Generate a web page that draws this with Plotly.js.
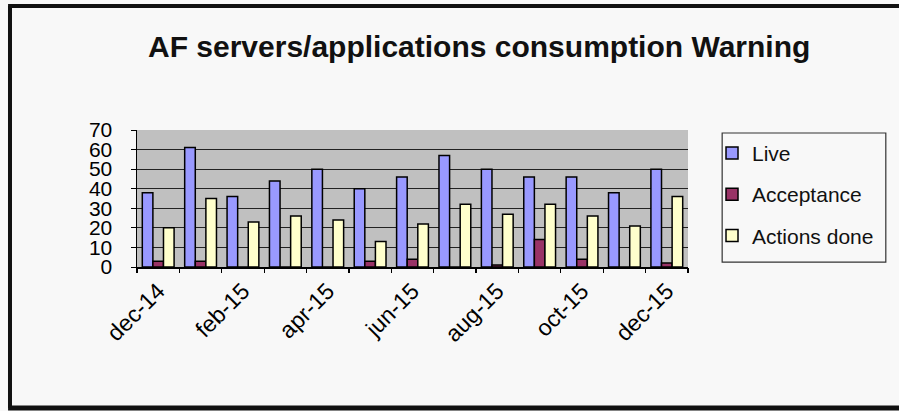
<!DOCTYPE html>
<html>
<head>
<meta charset="utf-8">
<script src="https://cdn.plot.ly/plotly-3.0.1.min.js"></script>
<style>
  html, body { margin: 0; padding: 0; background: #f8f8f8; overflow: hidden; }
  #chart { width: 899px; height: 411px; }
</style>
</head>
<body>
<div id="chart"></div>
<script>
// Monthly warning counts per environment
const months = ["dec-14", "jan-15", "feb-15", "mar-15", "apr-15", "may-15", "jun-15",
                "jul-15", "aug-15", "sep-15", "oct-15", "nov-15", "dec-15"];
const live        = [38, 61, 36, 44, 50, 40, 46, 57, 50, 46, 46, 38, 50];
const acceptance  = [3, 3, 0, 0, 0, 3, 4, 0, 1, 14, 4, 0, 2];
const actionsDone = [20, 35, 23, 26, 24, 13, 22, 32, 27, 32, 26, 21, 36];

// Only every other month is labelled on the category axis
const labelledMonths = ["dec-14", "feb-15", "apr-15", "jun-15", "aug-15", "oct-15", "dec-15"];
// Category boundaries, used for the tick marks between groups
const boundaries = [];
for (let i = 0; i <= months.length; i++) boundaries.push(i - 0.5);

const FONT = "Liberation Sans, Arial, sans-serif";
const outline = { color: "#000", width: 1.5 };

const traces = [
  { type: "bar", name: "Live", x: months, y: live, legendgroup: "a",
    marker: { color: "#9999ff", line: outline } },
  { type: "bar", name: "Acceptance", x: months, y: acceptance, legendgroup: "b",
    marker: { color: "#993366", line: outline } },
  { type: "bar", name: "Actions done", x: months, y: actionsDone, legendgroup: "c",
    marker: { color: "#ffffcc", line: outline } },
  // carrier for the boundary tick axis
  { type: "scatter", x: [boundaries[0]], y: [0], xaxis: "x2", mode: "markers",
    marker: { opacity: 0 }, showlegend: false, hoverinfo: "skip" }
];

// outer chart frame: left, top and bottom edges (paper units of the plot area)
const frameLine = { color: "#111", width: 4 };

const layout = {
  width: 899, height: 411,
  margin: { l: 137, r: 211, t: 130, b: 144, autoexpand: false },
  paper_bgcolor: "#f8f8f8",
  plot_bgcolor: "#c0c0c0",
  font: { family: FONT, color: "#000" },
  title: {
    text: "<b>AF servers/applications consumption Warning</b>",
    font: { family: FONT, size: 30, color: "#111" },
    xref: "container", yref: "container",
    x: 0.533, xanchor: "center", y: 0.887, yanchor: "middle"
  },
  barmode: "group",
  bargap: 0.25,
  bargroupgap: 0,
  xaxis: {
    type: "category",
    tickmode: "array", tickvals: labelledMonths, ticktext: labelledMonths,
    tickangle: -45, ticks: "", tickfont: { size: 23 },
    showline: true, linecolor: "#000", linewidth: 1.5,
    showgrid: false, zeroline: false, range: [-0.5, 12.5]
  },
  xaxis2: {
    overlaying: "x", anchor: "y", side: "bottom",
    range: [-0.5, 12.5], tickmode: "array", tickvals: boundaries,
    ticks: "outside", ticklen: 5, tickcolor: "#000", tickwidth: 1.2,
    showticklabels: false, showgrid: false, zeroline: false, showline: false
  },
  yaxis: {
    range: [0, 70], dtick: 10, tick0: 0,
    ticks: "outside", ticklen: 5, tickcolor: "#000",
    tickfont: { size: 21 }, ticklabelstandoff: 14,
    showline: true, linecolor: "#000", linewidth: 1.5,
    showgrid: true, gridcolor: "#222", gridwidth: 1, zeroline: false
  },
  showlegend: true,
  legend: {
    xref: "container", yref: "container",
    x: 0.792, xanchor: "left", y: 0.677, yanchor: "top",
    bgcolor: "rgba(0,0,0,0)", borderwidth: 0,
    font: { family: FONT, size: 21, color: "#111" },
    traceorder: "grouped", tracegroupgap: 11
  },
  shapes: [
    // legend frame
    { type: "rect", xref: "paper", yref: "paper",
      x0: 1.062, x1: 1.359, y0: 0.036, y1: 0.978,
      line: { color: "#333", width: 1.2 }, fillcolor: "#f8f8f8", layer: "below" },
    // outer frame
    { type: "line", xref: "paper", yref: "paper", x0: -0.2305, x1: -0.2305, y0: 1.905, y1: -1.03, line: frameLine },
    { type: "line", xref: "paper", yref: "paper", x0: -0.234, x1: 1.42, y0: 1.905, y1: 1.905, line: frameLine },
    { type: "line", xref: "paper", yref: "paper", x0: -0.234, x1: 1.42, y0: -1.03, y1: -1.03,
      line: { color: "#111", width: 5 } }
  ]
};

Plotly.newPlot("chart", traces, layout, { displayModeBar: false, staticPlot: true });
</script>
</body>
</html>
